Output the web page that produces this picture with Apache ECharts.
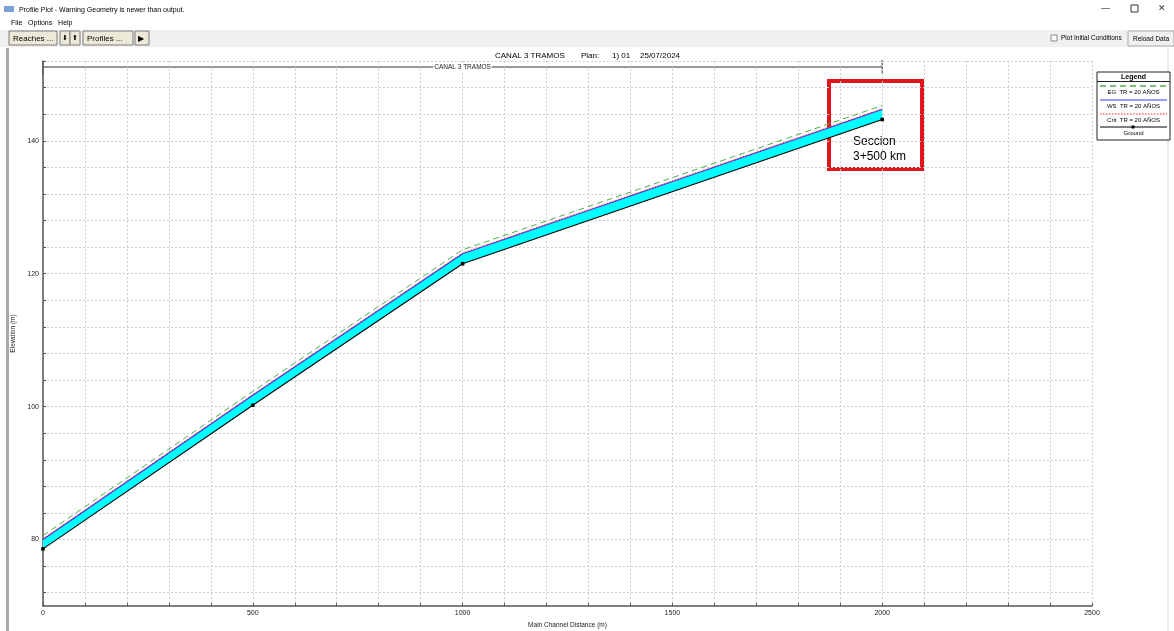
<!DOCTYPE html>
<html><head><meta charset="utf-8">
<script src="https://cdn.jsdelivr.net/npm/echarts@6/dist/echarts.min.js"></script>
<style>html,body{margin:0;padding:0;background:#fff}#c{width:1174px;height:631px}</style>
</head><body><div id="c"></div>
<script>
// ---- data ----
const stations = [0, 500, 1000, 2000];
const groundElev = [78.6, 100.2, 121.5, 143.2];
const wsElev = [80.0, 101.7, 123.0, 144.7];
const critElev = [80.1, 101.8, 123.1, 144.8];
const egElev = [80.6, 102.3, 123.6, 145.3];
const xLabelValues = [0, 500, 1000, 1500, 2000, 2500];
const yLabelValues = [80, 100, 120, 140];
const yGridValues = [72, 76, 80, 84, 88, 92, 96, 100, 104, 108, 112, 116, 120, 124, 128, 132, 136, 140, 144, 148, 152];
const reachName = 'CANAL 3 TRAMOS';
const reachExtent = [0, 2000];
const plotTitle = ['CANAL 3 TRAMOS', 'Plan:', '1) 01', '25/07/2024'];
const legendLabels = ['EG  TR = 20 AÑOS', 'WS  TR = 20 AÑOS', 'Crit  TR = 20 AÑOS', 'Ground'];

const F = 'Liberation Sans, Arial, sans-serif';
const pts = arr => stations.map((s, i) => [s, arr[i]]);

const chart = echarts.init(document.getElementById('c'), null, {renderer: 'canvas'});

function txt(x, y, t, o) {
  return Object.assign({type: 'text', x: x, y: y, silent: true,
    style: Object.assign({text: t, font: '7px ' + F, fill: '#000', textVerticalAlign: 'middle'}, (o && o.style) || {})}, o ? {z: o.z} : {});
}
function rect(x, y, w, h, fill, stroke, lw) {
  return {type: 'rect', shape: {x: x, y: y, width: w, height: h}, silent: true,
    style: {fill: fill, stroke: stroke || null, lineWidth: lw || 1}};
}
function line(x1, y1, x2, y2, stroke, lw, dash) {
  return {type: 'line', shape: {x1: x1, y1: y1, x2: x2, y2: y2}, silent: true,
    style: {stroke: stroke, lineWidth: lw || 1, lineDash: dash || null}};
}

const chrome = [
  // title bar
  rect(0, 0, 1174, 17, '#ffffff'),
  rect(4, 6, 10, 6, '#7aa0d8'),
  txt(19, 10, 'Profile Plot - Warning Geometry is newer than output.', {style: {font: '7px ' + F}}),
  txt(1101, 9, '—', {style: {font: '9px ' + F, fill: '#333'}}),
  rect(1131, 5, 7, 7, null, '#333', 1),
  txt(1158, 9, '✕', {style: {font: '9px ' + F, fill: '#333'}}),
  // menu
  txt(11, 23, 'File   Options   Help', {style: {font: '7px ' + F}}),
  // toolbar
  rect(0, 30, 1174, 17, '#f0f0f0'),
  rect(9, 31, 48, 14, '#ece9d8', '#7a7a7a'),
  txt(13, 38.5, 'Reaches ...', {style: {font: '8px ' + F}}),
  rect(60, 31, 10, 14, '#ece9d8', '#7a7a7a'),
  txt(62, 38.5, '⬇', {style: {font: '7px ' + F}}),
  rect(70, 31, 10, 14, '#ece9d8', '#7a7a7a'),
  txt(72, 38.5, '⬆', {style: {font: '7px ' + F}}),
  rect(83, 31, 50, 14, '#ece9d8', '#7a7a7a'),
  txt(87, 38.5, 'Profiles ...', {style: {font: '8px ' + F}}),
  rect(135, 31, 14, 14, '#ece9d8', '#7a7a7a'),
  txt(138, 38.5, '▶', {style: {font: '8px ' + F}}),
  rect(1051, 35, 6, 6, '#fff', '#888'),
  txt(1061, 38.5, 'Plot Initial Conditions', {style: {font: '6.5px ' + F}}),
  rect(1128, 31, 46, 15, '#f0f0f0', '#adadad'),
  txt(1133, 39, 'Reload Data', {style: {font: '6.5px ' + F}}),
  // left frame bar
  rect(6, 48, 3, 583, '#a8a8a8'),
  line(1168, 48, 1168, 631, '#d8d8d8', 1),
  // title row
  txt(495, 56, plotTitle[0], {style: {font: '8px ' + F}}),
  txt(581, 56, plotTitle[1], {style: {font: '8px ' + F}}),
  txt(612, 56, plotTitle[2], {style: {font: '8px ' + F}}),
  txt(640, 56, plotTitle[3], {style: {font: '8px ' + F}}),
  // annotation
  rect(829, 81, 93, 88, null, '#e3151c', 4),
  txt(853, 142, 'Seccion', {style: {font: '12px ' + F}}),
  txt(853, 157, '3+500 km', {style: {font: '12px ' + F}}),
  // legend box
  rect(1097, 72, 73, 68, '#fff', '#222', 1),
  txt(1133.5, 77, 'Legend', {style: {font: 'bold 7px ' + F, textAlign: 'center'}}),
  line(1097, 81.5, 1170, 81.5, '#222', 1),
  line(1100, 86, 1167, 86, '#4caf50', 1.5, [6, 4]),
  txt(1133.5, 92, legendLabels[0], {style: {font: '6px ' + F, textAlign: 'center'}}),
  line(1100, 100, 1167, 100, '#3a3aff', 1.2),
  txt(1133.5, 106, legendLabels[1], {style: {font: '6px ' + F, textAlign: 'center'}}),
  line(1100, 114, 1167, 114, '#ff2020', 1.2, [1.5, 1.5]),
  txt(1133.5, 120, legendLabels[2], {style: {font: '6px ' + F, textAlign: 'center'}}),
  line(1100, 127, 1167, 127, '#000', 1.2),
  rect(1131.5, 125.5, 3, 3, '#000'),
  txt(1133.5, 133, legendLabels[3], {style: {font: '6px ' + F, textAlign: 'center'}})
];

const option = {
  animation: false,
  backgroundColor: '#ffffff',
  grid: {left: 43, right: 82, top: 61, bottom: 25, containLabel: false, outerBoundsMode: 'none'},
  xAxis: {
    type: 'value', min: 0, max: 2500, interval: 100,
    name: 'Main Channel Distance (m)', nameLocation: 'middle', nameGap: 14,
    nameTextStyle: {fontFamily: F, fontSize: 6.5, color: '#222'},
    axisLine: {show: true, onZero: false, lineStyle: {color: '#555', width: 1.5}},
    axisTick: {show: true, inside: true, length: 3, lineStyle: {color: '#555'}},
    axisLabel: {customValues: xLabelValues, formatter: v => String(v), fontFamily: F, fontSize: 7, color: '#222', margin: 4},
    splitLine: {show: true, lineStyle: {color: '#cfcfcf', type: [2, 2], width: 1}}
  },
  yAxis: {
    type: 'value', min: 70, max: 152,
    name: 'Elevation (m)', nameLocation: 'middle', nameGap: 23, nameRotate: 90,
    nameTextStyle: {fontFamily: F, fontSize: 6.5, color: '#222'},
    axisLine: {show: true, lineStyle: {color: '#555', width: 1.5}},
    axisTick: {show: true, inside: true, length: 3, customValues: yGridValues, lineStyle: {color: '#555'}},
    axisLabel: {customValues: yLabelValues, formatter: v => String(v), fontFamily: F, fontSize: 7, color: '#222', margin: 4},
    splitLine: {show: true, lineStyle: {color: '#cfcfcf', type: [2, 2], width: 1}}
  },
  series: [
    {
      name: 'water', type: 'custom', silent: true, z: 2,
      data: pts(wsElev),
      renderItem: function (params, api) {
        if (params.dataIndex !== 0) return null;
        const top = stations.map((s, i) => api.coord([s, wsElev[i]]));
        const bot = stations.map((s, i) => api.coord([s, groundElev[i]])).reverse();
        return {type: 'polygon', shape: {points: top.concat(bot)}, style: {fill: '#00ffff', stroke: null}};
      }
    },
    {name: 'EG', type: 'line', data: pts(egElev), symbol: 'none', z: 3,
      lineStyle: {color: '#4caf50', width: 1, type: [6, 4]}},
    {name: 'WS', type: 'line', data: pts(wsElev), symbol: 'none', z: 4,
      lineStyle: {color: '#3a3aff', width: 1.2}},
    {name: 'Crit', type: 'line', data: pts(critElev), symbol: 'none', z: 5,
      lineStyle: {color: '#ff2020', width: 1, type: [1.5, 1.5]}},
    {name: 'Ground', type: 'line', data: pts(groundElev), z: 6,
      symbol: 'rect', symbolSize: 3.5, showSymbol: true,
      itemStyle: {color: '#000'}, lineStyle: {color: '#000', width: 1.1}}
  ],
  graphic: chrome
};
chart.setOption(option);

// reach bracket at top of plot, positioned from the x scale
const rx0 = chart.convertToPixel({xAxisIndex: 0}, reachExtent[0]);
const rx1 = chart.convertToPixel({xAxisIndex: 0}, reachExtent[1]);
const ry = 67;
const bracket = [
  line(rx0, ry, rx1, ry, '#333', 1),
  line(rx0, 61, rx0, 74, '#333', 1),
  line(rx1, 60, rx1, 74, '#333', 1),
  {type: 'text', x: (rx0 + rx1) / 2, y: ry, silent: true, z: 10,
    style: {text: reachName, font: '6.5px ' + F, fill: '#222', textAlign: 'center', textVerticalAlign: 'middle',
      backgroundColor: '#fff', padding: [0, 1]}}
];
chart.setOption({graphic: chrome.concat(bracket)});
</script></body></html>
